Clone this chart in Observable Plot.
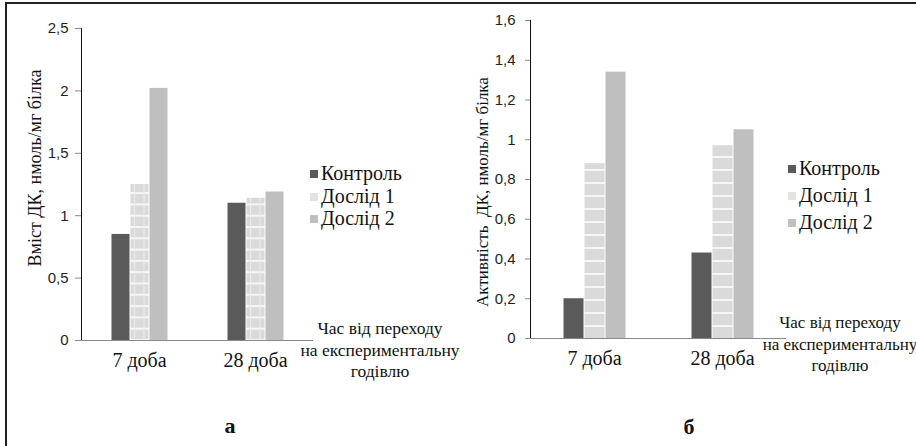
<!DOCTYPE html>
<html>
<head>
<meta charset="utf-8">
<script src="https://cdn.jsdelivr.net/npm/d3@7"></script>
<script src="https://cdn.jsdelivr.net/npm/@observablehq/plot@0.6"></script>
<style>
  body { margin: 0; background: #fff; }
  #wrap { position: relative; width: 916px; height: 446px; overflow: hidden; background: #fff; color: #111; }
  .panel { position: absolute; top: 0; }
  .panel svg { overflow: visible; }
  .panel g[aria-label^="y-axis"] { color: #8a8a8a; }
  .abs { position: absolute; white-space: pre; font-family: "Liberation Serif", "Times New Roman", serif; }
  .ylab { transform: translate(-50%, -50%) rotate(-90deg); }
  .xt { font-size: 17.5px; line-height: 21.5px; text-align: center; transform: translateX(-50%); }
  .leg { font-size: 20px; line-height: 20px; }
  .sw { display: inline-block; width: 8px; height: 8px; margin-right: 3px; vertical-align: 2px; }
  .tag { font-size: 22px; font-weight: bold; transform: translate(-50%, -50%); }
  .bt { position: absolute; left: 6px; top: 2px; width: 912px; height: 2px; background: #222; }
  .bl { position: absolute; left: 5px; top: 2px; width: 2px; height: 446px; background: #222; }
</style>
</head>
<body>
<div id="wrap"></div>
<script>
// ---- data ----
const categories = ["7 доба", "28 доба"];
const series = ["Контроль", "Дослід 1", "Дослід 2"];
// panel а: Вміст ДК, нмоль/мг білка
const controlA = [0.85, 1.10];
const exp1A = [1.25, 1.14];
const exp2A = [2.02, 1.19];
const yTicksA = [0, 0.5, 1, 1.5, 2, 2.5];
// panel б: Активність ДК, нмоль/мг білка
const controlB = [0.20, 0.43];
const exp1B = [0.88, 0.97];
const exp2B = [1.34, 1.05];
const yTicksB = [0, 0.2, 0.4, 0.6, 0.8, 1, 1.2, 1.4, 1.6];
const yLabelA = "Вміст ДК, нмоль/мг білка";
const yLabelB = "Активність  ДК, нмоль/мг білка";
const xTitle = ["Час від переходу", "на експериментальну", "годівлю"];
const panelTags = ["а", "б"];

const colors = ["#5a5a5a", "#dadada", "#bfbfbf"];

function rows(c, e1, e2) {
  const out = [];
  categories.forEach((day, i) => {
    out.push({day, series: series[0], value: c[i]});
    out.push({day, series: series[1], value: e1[i]});
    out.push({day, series: series[2], value: e2[i]});
  });
  return out;
}
const fmt = d => String(d).replace(".", ",");

function panel(data, opts) {
  const svg = Plot.plot({
    width: opts.width, height: 446,
    marginLeft: opts.ml, marginRight: opts.mr, marginTop: opts.mt, marginBottom: opts.mb,
    style: {background: "transparent", overflow: "visible", fontFamily: "Liberation Serif, Times New Roman, serif", fontSize: "20px", color: "#111"},
    facet: {data, x: "day"},
    fx: {domain: categories, padding: 0, label: null, axis: "bottom", tickSize: 0, tickPadding: 12},
    x: {domain: series, axis: null, paddingInner: 0, paddingOuter: opts.po},
    y: {domain: opts.ydom, ticks: opts.ticks, tickFormat: fmt, tickSize: opts.ts, tickPadding: opts.tp, label: null, line: true},
    color: {domain: series, range: [colors[0], `url(#${opts.pid})`, colors[2]]},
    marks: [
      Plot.barY(data, {x: "series", y: "value", fill: "series", insetLeft: 0.5, insetRight: 0.5}),
      Plot.ruleY([0], {stroke: "#8a8a8a"})
    ]
  });
  const defs = d3.select(svg).insert("defs", ":first-child");
  const p = defs.append("pattern").attr("id", opts.pid).attr("patternUnits", "userSpaceOnUse")
    .attr("width", opts.pw).attr("height", opts.ph);
  p.append("rect").attr("width", opts.pw).attr("height", opts.ph).attr("fill", colors[1]);
  p.append("rect").attr("y", 0).attr("width", opts.pw).attr("height", opts.sh).attr("fill", "#f6f6f6");
  if (opts.vert) p.append("rect").attr("x", 0).attr("width", 1).attr("height", opts.ph).attr("fill", "#ececec");
  // y tick labels in sans (Excel-like)
  d3.select(svg).selectAll('g[aria-label^="y-axis"] text')
    .attr("font-family", "Liberation Sans, sans-serif").attr("font-size", 15).attr("fill", "#1e1e1e")
    .style("font-family", "Liberation Sans, sans-serif").style("font-size", "15px");
  return svg;
}

const wrap = document.getElementById("wrap");
function add(el, left) {
  const d = document.createElement("div");
  d.className = "panel"; d.style.left = left + "px";
  d.appendChild(el); wrap.appendChild(d);
}
add(panel(rows(controlA, exp1A, exp2A), {width: 456, ml: 80, mr: 143, mt: 28, mb: 106, po: 1.54, ydom: [0, 2.5], ticks: yTicksA, ts: 6, tp: 7, pid: "patA", pw: 9.5, ph: 11.3, sh: 2, vert: true}), 0);
add(panel(rows(controlB, exp1B, exp2B), {width: 460, ml: 74, mr: 130, mt: 20, mb: 108, po: 1.5, ydom: [0, 1.6], ticks: yTicksB, ts: 5, tp: 10, pid: "patB", pw: 10, ph: 13, sh: 2, vert: false}), 456);

function txt(cls, html, x, y) {
  const d = document.createElement("div");
  d.className = "abs " + cls; d.style.left = x + "px"; d.style.top = y + "px";
  d.innerHTML = html; wrap.appendChild(d); return d;
}
// y labels
txt("ylab", yLabelA, 35, 168).style.fontSize = "18px";
txt("ylab", yLabelB, 483, 192).style.fontSize = "17px";
// x titles
txt("xt", xTitle.join("\n"), 380, 318);
txt("xt", xTitle.join("\n"), 840, 312).style.fontSize = "17px";
// legends
function legend(x, y0, step) {
  series.forEach((s, i) => {
    const c = i === 1 ? "#e2e2e2" : colors[i];
    txt("leg", `<span class="sw" style="background:${c}"></span>${s}`, x, y0 + i * step);
  });
}
legend(310, 163, 22.5);
legend(788, 158, 27);
// panel tags
txt("tag", panelTags[0], 230, 426);
txt("tag", panelTags[1], 689, 427);
// border (top + left)
const bt = document.createElement("div"); bt.className = "bt"; wrap.appendChild(bt);
const bl = document.createElement("div"); bl.className = "bl"; wrap.appendChild(bl);
</script>
</body>
</html>
